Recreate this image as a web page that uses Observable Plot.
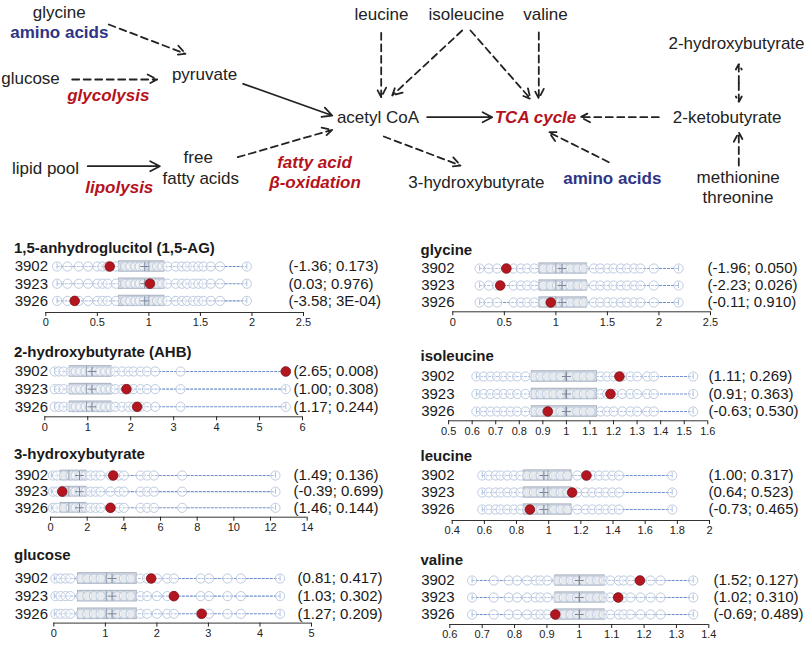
<!DOCTYPE html>
<html><head><meta charset="utf-8">
<script src="https://cdn.jsdelivr.net/npm/d3@7"></script>
<script src="https://cdn.jsdelivr.net/npm/@observablehq/plot@0.6"></script>
<style>
body{margin:0;background:#fff;font-family:"Liberation Sans",Arial,sans-serif;}
#root{position:relative;width:807px;height:645px;overflow:hidden;background:#fff;}
#root svg{position:absolute;background:transparent;}
.title{position:absolute;font-size:15px;font-weight:bold;line-height:15px;color:#1a1a1a;white-space:nowrap;font-family:"Liberation Sans",Arial,sans-serif;}
</style></head><body><div id="root"></div>
<script>
// ---------- DATA ----------
const rows = ["3902", "3923", "3926"];

// pathway diagram nodes (label, layout position, kind)
const nodeLabels = ["glycine","amino acids","glucose","glycolysis","pyruvate","lipid pool","lipolysis","free","fatty acids","fatty acid","β-oxidation","acetyl CoA","leucine","isoleucine","valine","2-hydroxybutyrate","2-ketobutyrate","methionine","threonine","TCA cycle","3-hydroxybutyrate","amino acids"];
const nodeKinds  = ["m","g","m","p","m","m","p","m","m","p","p","m","m","m","m","m","m","m","m","p","m","g"];
const nodeX = [58.7,58.8,30,107.8,204,45,118.8,197.7,200.3,314,314.5,377.5,381,465.8,545,736,726.7,737.7,737.5,535,475.8,611.8];
const nodeY = [11.7,32.3,78.3,95,74,168.3,186.7,156.7,178.3,161.7,181.7,116.7,14,14,14,43.3,116.7,176.7,197.5,116.7,181.7,178.3];

// pathway arrows: from → to, dashed?
const edgeX1 = [108.3,71.7,242.7,87.3,237.3,380.7,461.7,470,538.3,426.7,383.3,658.3,608.3,738.3,738.3,738.3];
const edgeY1 = [24,79,83.3,165.7,156.7,32.3,30,30,32,116.7,136,116.7,161.7,82.5,82.5,165];
const edgeX2 = [185,156.7,331.7,159.3,331.7,380.7,391.7,530,538.3,491.7,460,580,548.3,738.3,738.3,738.3];
const edgeY2 = [53.3,79,115,165.7,129.3,96.7,95,98.3,98,116.7,165,116.7,131.7,63.3,101.7,131.7];
const edgeDashed = [true,true,false,false,true,true,true,true,true,false,true,true,true,true,true,true];

// metabolite panels: cohort values (circles), box [min,q1,median,q3,max,mean], subject values, stats, ticks
const titles = ["1,5-anhydroglucitol (1,5-AG)","2-hydroxybutyrate (AHB)","3-hydroxybutyrate","glucose","glycine","isoleucine","leucine","valine"];

const agCohort = [0.11,0.21,0.32,0.41,0.5,0.55,0.6,0.68,0.77,0.82,0.87,0.91,0.95,1.02,1.08,1.13,1.18,1.26,1.32,1.37,1.43,1.48,1.53,1.6,1.69,1.95];
const agBox = [0.11,0.71,1.0,1.15,1.95,0.96];
const agSubject = [0.62,1.01,0.28];
const agStats = ["(-1.36; 0.173)","(0.03; 0.976)","(-3.58; 3E-04)"];
const agTicks = [0,0.5,1,1.5,2,2.5];

const ahbCohort = [0.23,0.33,0.44,0.6,0.72,0.83,0.95,1.06,1.18,1.29,1.41,1.53,1.64,1.8,1.95,2.07,2.23,2.38,2.57,3.16,5.61];
const ahbBox = [0.23,0.58,0.97,1.55,5.61,1.1];
const ahbSubject = [5.61,1.9,2.15];
const ahbStats = ["(2.65; 0.008)","(1.00; 0.308)","(1.17; 0.244)"];
const ahbTicks = [0,1,2,3,4,5,6];

const hbCohort = [0.13,0.36,0.73,1.09,1.36,1.64,1.91,2.18,2.46,2.73,3.27,3.73,4.0,4.91,5.27,5.64,7.18,12.27];
const hbBox = [0.04,0.55,1.0,1.96,12.27,1.58];
const hbSubject = [3.42,0.64,3.27];
const hbStats = ["(1.49; 0.136)","(-0.39; 0.699)","(1.46; 0.144)"];
const hbTicks = [0,2,4,6,8,10,12,14];

const gluCohort = [0.03,0.13,0.23,0.32,0.52,0.65,0.78,0.91,1.1,1.23,1.36,1.49,1.68,1.81,2.0,2.2,2.33,2.85,3.01,3.37,3.63,4.39];
const gluBox = [0.01,0.47,1.02,1.61,4.39,1.13];
const gluSubject = [1.89,2.33,2.87];
const gluStats = ["(0.81; 0.417)","(1.03; 0.302)","(1.27; 0.209)"];
const gluTicks = [0,1,2,3,4,5];

const glyCohort = [0.26,0.35,0.43,0.59,0.66,0.72,0.79,0.88,0.95,1.01,1.08,1.14,1.21,1.27,1.37,1.43,1.5,1.56,1.63,1.69,1.76,1.82,1.95,2.19];
const glyBox = [0.26,0.84,1.0,1.3,2.19,1.06];
const glySubject = [0.52,0.46,0.95];
const glyStats = ["(-1.96; 0.050)","(-2.23; 0.026)","(-0.11; 0.910)"];
const glyTicks = [0,0.5,1,1.5,2,2.5];

const ileCohort = [0.618,0.649,0.678,0.706,0.734,0.763,0.791,0.826,0.862,0.89,0.918,0.946,0.975,1.017,1.046,1.074,1.102,1.145,1.173,1.201,1.237,1.272,1.3,1.343,1.371,1.538];
const ileBox = [0.618,0.853,0.998,1.13,1.538,1.0];
const ileSubject = [1.225,1.187,0.921];
const ileStats = ["(1.11; 0.269)","(0.91; 0.363)","(-0.63; 0.530)"];
const ileTicks = [0.5,0.6,0.7,0.8,0.9,1,1.1,1.2,1.3,1.4,1.5,1.6];

const leuCohort = [0.587,0.628,0.67,0.701,0.742,0.784,0.825,0.867,0.908,0.95,0.991,1.033,1.074,1.116,1.178,1.23,1.271,1.313,1.354,1.396,1.437,1.769];
const leuBox = [0.587,0.845,0.995,1.142,1.768,0.97];
const leuSubject = [1.235,1.146,0.883];
const leuStats = ["(1.00; 0.317)","(0.64; 0.523)","(-0.73; 0.465)"];
const leuTicks = [0.4,0.6,0.8,1,1.2,1.4,1.6,1.8,2];

const valCohort = [0.669,0.736,0.782,0.808,0.839,0.865,0.88,0.901,0.932,0.952,0.973,0.993,1.014,1.034,1.055,1.075,1.096,1.122,1.137,1.158,1.189,1.22,1.251,1.352];
const valBox = [0.669,0.926,1.0,1.078,1.352,1.0];
const valSubject = [1.187,1.12,0.926];
const valStats = ["(1.52; 0.127)","(1.02; 0.310)","(-0.69; 0.489)"];
const valTicks = [0.6,0.7,0.8,0.9,1,1.1,1.2,1.3,1.4];

// ---------- LAYOUT (positions only) ----------
const layout = [
  {col:0, titleBase:253,   row1:266.3, step:17.2,  axis:312.3, x0:45.3,  x1:303,   textX:288},
  {col:0, titleBase:356.7, row1:370.7, step:17.65, axis:416,   x0:44.3,  x1:302,   textX:293},
  {col:0, titleBase:458.3, row1:475,   step:16.15, axis:516.7, x0:50,    x1:306.7, textX:293},
  {col:0, titleBase:560,   row1:577.7, step:17.65, axis:622.3, x0:53.3,  x1:311,   textX:297},
  {col:1, titleBase:254.3, row1:267.7, step:17,    axis:311,   x0:452.3, x1:710,   textX:707},
  {col:1, titleBase:361,   row1:375.7, step:17.5,  axis:420,   x0:448.1, x1:707.3, textX:708},
  {col:1, titleBase:461,   row1:475,   step:17,    axis:520,   x0:451.7, x1:709,   textX:708},
  {col:1, titleBase:565,   row1:580,   step:17,    axis:624,   x0:449.3, x1:708.3, textX:713}
];
const cols = [{left:0, width:400, titleX:14, labelRight:47.5}, {left:400, width:407, titleX:420.5, labelRight:454}];

const panelData = [
  [agCohort, agBox, agSubject, agStats, agTicks],
  [ahbCohort, ahbBox, ahbSubject, ahbStats, ahbTicks],
  [hbCohort, hbBox, hbSubject, hbStats, hbTicks],
  [gluCohort, gluBox, gluSubject, gluStats, gluTicks],
  [glyCohort, glyBox, glySubject, glyStats, glyTicks],
  [ileCohort, ileBox, ileSubject, ileStats, ileTicks],
  [leuCohort, leuBox, leuSubject, leuStats, leuTicks],
  [valCohort, valBox, valSubject, valStats, valTicks]
];

const FONT = "Liberation Sans, Arial, sans-serif";
const root = document.getElementById("root");

// ---------- DIAGRAM ----------
const nodes = nodeLabels.map((label, i) => ({label, kind: nodeKinds[i], x: nodeX[i], y: nodeY[i]}));
const edges = edgeX1.map((x1, i) => ({x1, y1: edgeY1[i], x2: edgeX2[i], y2: edgeY2[i], dashed: edgeDashed[i]}));

const diagram = Plot.plot({
  width: 807, height: 212, margin: 0,
  style: {background: "transparent", fontFamily: FONT},
  x: {domain: [0, 807], range: [0, 807], axis: null},
  y: {domain: [0, 212], range: [0, 212], axis: null},
  marks: [
    Plot.arrow(edges.filter(d => !d.dashed), {x1: "x1", y1: "y1", x2: "x2", y2: "y2", stroke: "#222", strokeWidth: 1.8, headLength: 9, headAngle: 55}),
    Plot.arrow(edges.filter(d => d.dashed), {x1: "x1", y1: "y1", x2: "x2", y2: "y2", stroke: "#222", strokeWidth: 1.8, strokeDasharray: "7,4.5", headLength: 9, headAngle: 55}),
    Plot.text(nodes.filter(d => d.kind === "m"), {x: "x", y: "y", text: "label", fontSize: 17, fill: "#222"}),
    Plot.text(nodes.filter(d => d.kind === "g"), {x: "x", y: "y", text: "label", fontSize: 17, fontWeight: "bold", fill: "#2e3585"}),
    Plot.text(nodes.filter(d => d.kind === "p"), {x: "x", y: "y", text: "label", fontSize: 17, fontWeight: "bold", fontStyle: "italic", fill: "#b5121b"})
  ]
});
diagram.style.left = "0px"; diagram.style.top = "0px";
root.appendChild(diagram);

// ---------- PANELS ----------
layout.forEach((L, k) => {
  const [cohort, box, subject, stats, ticks] = panelData[k];
  const C = cols[L.col];
  const top = L.row1 - 12;
  const axisRel = L.axis - top;
  const H = axisRel + 22;
  const marginLeft = L.x0 - C.left;
  const marginRight = C.width - (L.x1 - C.left);
  const rowData = rows.map((r, i) => ({row: r, i, value: subject[i], stat: stats[i]}));
  const pts = rows.flatMap((r, i) => cohort.map(v => ({i, v})));
  const bx = rows.map((r, i) => ({i, min: box[0], q1: box[1], med: box[2], q3: box[3], max: box[4], mean: box[5]}));
  const hb = 0.3;
  const axisIdx = (L.axis - L.row1) / L.step;

  const chart = Plot.plot({
    width: C.width, height: H,
    marginTop: 0, marginBottom: 22, marginLeft, marginRight,
    style: {background: "transparent", fontFamily: FONT, overflow: "visible"},
    x: {domain: [ticks[0], ticks[ticks.length - 1]]},
    y: {domain: [0, 2], range: [12, 12 + 2 * L.step], axis: null},
    marks: [
      Plot.ruleY(bx, {y: "i", x1: "min", x2: "max", stroke: "#6f8fca", strokeWidth: 1.1, strokeDasharray: "3,1"}),
      Plot.ruleX(bx, {x: "min", y1: d => d.i - 0.17, y2: d => d.i + 0.17, stroke: "#6f8fca", strokeWidth: 1}),
      Plot.ruleX(bx, {x: "max", y1: d => d.i - 0.17, y2: d => d.i + 0.17, stroke: "#6f8fca", strokeWidth: 1}),
      Plot.rect(bx, {x1: "q1", x2: "q3", y1: d => d.i - hb, y2: d => d.i + hb, fill: "#d6dae1", stroke: "#a7b0bd", strokeWidth: 1}),
      Plot.dot(pts, {x: "v", y: "i", r: 4.6, stroke: "#bccadf", strokeWidth: 1, fill: "white", fillOpacity: 0.45}),
      Plot.ruleX(bx, {x: "med", y1: d => d.i - hb, y2: d => d.i + hb, stroke: "#97a2b3", strokeWidth: 1}),
      Plot.dot(bx, {x: "mean", y: "i", symbol: "plus", r: 3, stroke: "#7a879b", strokeWidth: 1}),
      Plot.dot(rowData, {x: "value", y: "i", r: 4.8, fill: "#b3161f", stroke: "#7d0f14", strokeWidth: 0.8}),
      Plot.text(rowData, {y: "i", text: "row", frameAnchor: "left", textAnchor: "end", dx: C.labelRight - L.x0, fontSize: 15, fill: "#1a1a1a"}),
      Plot.text(rowData, {y: "i", text: "stat", frameAnchor: "right", textAnchor: "start", dx: L.textX - L.x1, fontSize: 15, fill: "#1a1a1a"}),
      Plot.ruleY([axisIdx], {stroke: "#333", strokeWidth: 1}),
      Plot.axisX({ticks, tickSize: 4, tickPadding: 2, fontSize: 11, tickFormat: d => String(d), color: "#222"})
    ]
  });
  chart.style.left = C.left + "px";
  chart.style.top = top + "px";
  root.appendChild(chart);

  const t = document.createElement("div");
  t.className = "title";
  t.textContent = titles[k];
  t.style.left = C.titleX + "px";
  t.style.top = (L.titleBase - 12.7) + "px";
  root.appendChild(t);
});
</script>
</body></html>
